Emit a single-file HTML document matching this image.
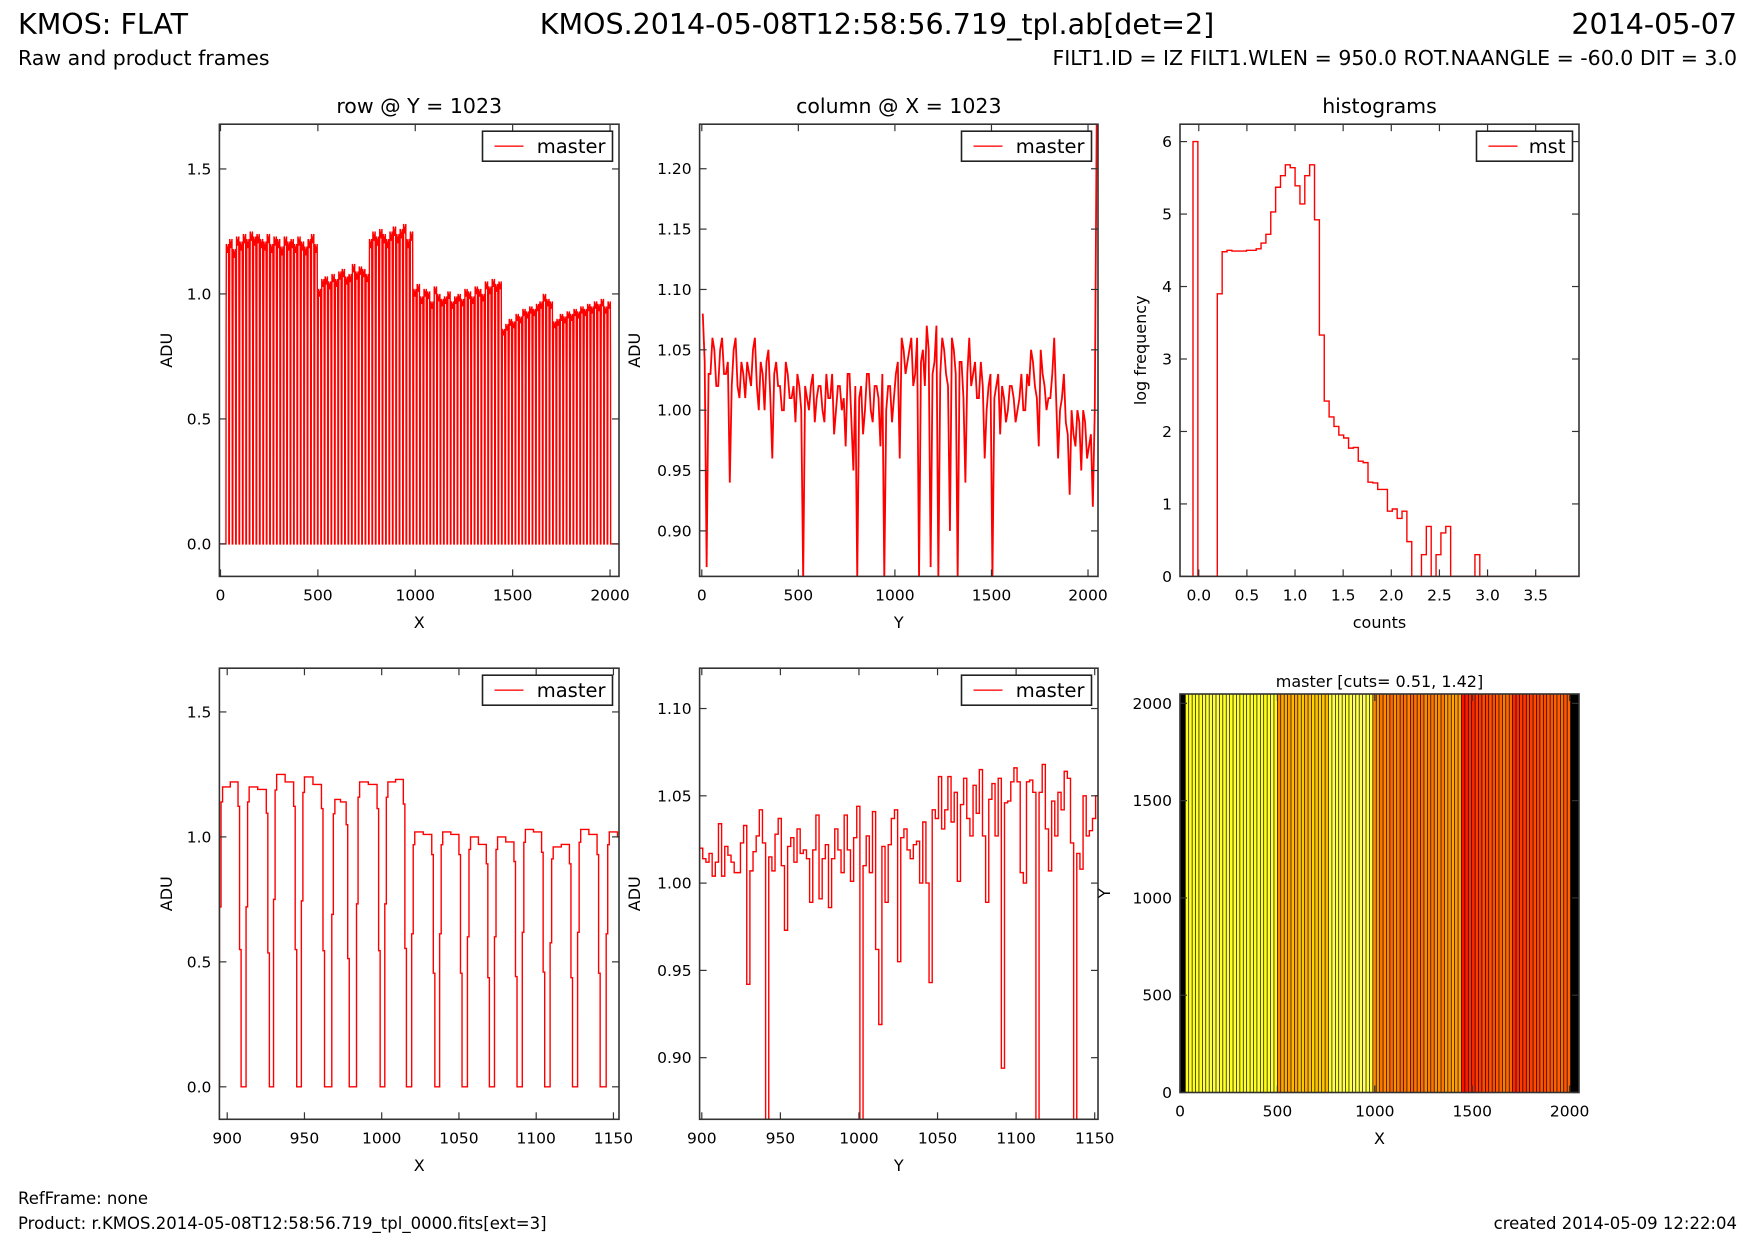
<!DOCTYPE html>
<html><head><meta charset="utf-8">
<style>
html,body{margin:0;padding:0;background:#fff;}
svg{display:block;font-family:"DejaVu Sans","Liberation Sans",sans-serif;}
</style></head>
<body>
<svg id="fig" width="1755" height="1245" viewBox="0 0 1755 1245" xmlns="http://www.w3.org/2000/svg">
<rect x="0" y="0" width="1755" height="1245" fill="#fff"/>
<text x="18" y="34" font-size="28.5" fill="#000">KMOS: FLAT</text>
<text x="877" y="34" font-size="28.5" fill="#000" text-anchor="middle">KMOS.2014-05-08T12:58:56.719_tpl.ab[det=2]</text>
<text x="1737" y="34" font-size="28.5" fill="#000" text-anchor="end">2014-05-07</text>
<text x="18" y="65" font-size="20.5" fill="#000">Raw and product frames</text>
<text x="1737" y="65" font-size="20.5" fill="#000" text-anchor="end">FILT1.ID = IZ FILT1.WLEN = 950.0 ROT.NAANGLE = -60.0 DIT = 3.0</text>
<text x="18" y="1204" font-size="16.5" fill="#000">RefFrame: none</text>
<text x="18" y="1229" font-size="16.5" fill="#000">Product: r.KMOS.2014-05-08T12:58:56.719_tpl_0000.fits[ext=3]</text>
<text x="1737" y="1229" font-size="16.5" fill="#000" text-anchor="end">created 2014-05-09 12:22:04</text>
</svg>
<script>
// ---------- data ----------
const slitStart = 28;
const slitPitch = 17.5;
const slitLevels = [1.20,1.22,1.18,1.23,1.21,1.24,1.22,1.25,1.23,1.24,1.22,1.21,1.24,1.20,1.23,1.22,1.19,1.23,1.21,1.22,1.20,1.23,1.21,1.19,1.22,1.24,1.20,
1.02,1.06,1.07,1.05,1.08,1.06,1.09,1.10,1.07,1.08,1.12,1.09,1.11,1.10,1.08,
1.22,1.25,1.23,1.26,1.24,1.22,1.25,1.27,1.24,1.26,1.28,1.22,1.25,
1.02,1.04,0.99,1.02,1.01,0.97,1.03,1.00,0.98,0.99,1.01,0.97,0.99,1.00,0.98,1.02,1.01,0.99,1.03,1.02,1.00,1.05,1.03,1.06,1.04,1.05,
0.86,0.88,0.90,0.89,0.92,0.91,0.94,0.93,0.95,0.94,0.96,0.97,1.00,0.98,
0.97,0.89,0.90,0.92,0.91,0.93,0.92,0.94,0.93,0.95,0.94,0.96,0.95,0.97,0.96,0.98,0.95,0.97];
// panel 2: column profile, samples every 20 px plus intermediate samples
const colStep = 20;
const colValues = [1.08,0.87,1.03,1.05,1.02,1.06,1.03,0.94,1.05,1.02,1.04,1.01,1.03,1.05,1.02,1.04,1.00,1.05,0.96,1.04,1.02,1.00,1.03,1.01,0.99,1.02,0.86,1.01,1.02,0.99,1.02,1.00,1.03,1.01,0.98,1.02,1.00,0.97,1.03,0.95,0.86,1.02,1.00,1.03,0.99,1.02,0.97,0.86,1.02,0.99,1.03,0.96,1.05,1.04,1.06,1.03,0.86,1.05,1.07,0.87,1.04,0.86,1.06,1.03,0.90,1.05,0.86,1.04,0.94,1.06,1.03,1.01,1.04,0.96,1.02,0.86,1.02,0.98,1.01,1.00,1.02,0.99,1.01,1.00,1.03,1.05,1.02,0.97,1.03,1.00,1.01,1.06,0.96,1.01,0.99,0.93,0.98,1.00,0.95,0.99,0.97,0.92,1.24];
const colMid = [1.04,1.03,1.06,1.02,1.05,1.03,1.04,1.02,1.06,1.01,1.03,1.04,1.02,1.06,1.00,1.03,1.04,1.01,1.03,1.02,1.00,1.04,1.01,1.02,1.03,1.00,1.02,1.00,1.03,1.01,1.02,0.99,1.01,1.03,1.00,1.02,1.01,1.03,0.99,1.02,1.01,0.98,1.03,1.00,1.02,1.01,1.03,1.00,1.02,1.01,1.04,1.06,1.03,1.05,1.02,1.06,1.04,1.02,1.05,1.03,1.07,1.03,1.05,1.02,1.06,1.03,1.04,1.01,1.03,1.02,1.04,1.01,1.02,1.00,1.03,1.01,1.03,1.02,0.99,1.02,1.01,1.00,1.03,1.00,1.02,1.04,1.01,1.05,1.02,1.01,1.03,1.01,1.00,1.03,0.98,1.00,0.97,0.99,1.00,0.96,0.98,1.00,1.24];
const histStart = -0.06;
const histWidth = 0.0505;
const histCounts = [6.0,0,0,0,0,3.9,4.48,4.5,4.49,4.49,4.49,4.5,4.5,4.52,4.6,4.72,5.03,5.37,5.53,5.68,5.64,5.39,5.14,5.53,5.68,4.92,3.33,2.42,2.2,2.07,1.95,1.91,1.77,1.78,1.59,1.57,1.3,1.29,1.2,1.2,0.9,0.93,0.8,0.9,0.48,0,0,0.3,0.69,0,0.3,0.6,0.69,0,0,0,0,0,0.3,0,0,0,0,0,0,0,0,0,0,0,0,0,0,0,0,0,0,0,0,0];
const zRowStart = [895,912.2,930,948,967.7,983.7,1002,1019.4,1037.5,1055.5,1073,1091,1109,1126.8,1145.3];
const zRowEnd   = [909,927.3,945,963,979,999,1016,1034.4,1052,1069.7,1087.6,1105.5,1123.5,1141.4,1160];
const zRowLevA  = [1.20,1.20,1.25,1.24,1.15,1.22,1.22,1.02,1.02,1.00,1.00,1.03,0.96,1.03,1.02];
const zRowLevB  = [1.22,1.19,1.22,1.21,1.14,1.21,1.23,1.01,1.01,0.97,0.98,1.02,0.97,1.01,1.00];
const zColStart = 898.6;
const zColStep = 2;
const zColValues = [1.02,1.014,1.012,1.017,1.004,1.012,1.034,1.004,1.021,1.016,1.012,1.006,1.006,1.023,1.033,0.942,1.007,1.018,1.027,1.042,1.023,0.86,1.015,1.007,1.028,1.037,1.01,0.973,1.021,1.026,1.012,1.031,1.017,1.019,1.014,0.989,1.019,1.039,0.991,1.014,1.022,0.986,1.014,1.031,1.019,1.006,1.039,1.019,1.001,1.026,1.044,0.86,1.01,1.027,1.006,1.041,0.962,0.919,1.021,0.989,1.022,1.037,1.042,0.955,1.026,1.031,1.019,1.014,1.022,1.024,1.0,1.035,1.0,0.943,1.042,1.037,1.061,1.031,1.042,1.061,1.035,1.052,1.001,1.045,1.06,1.037,1.027,1.056,1.04,1.065,1.027,0.989,1.048,1.057,1.027,1.06,0.894,1.046,1.047,1.058,1.066,1.058,1.006,1.0,1.058,1.059,1.052,0.86,1.052,1.068,1.031,1.007,1.047,1.027,1.052,1.042,1.064,1.06,1.023,0.86,1.017,1.008,1.05,1.027,1.03,1.037,1.05,1.05];
const ticksX2k = [0,500,1000,1500,2000];
const ticksYrow = [0.0,0.5,1.0,1.5];
const ticksYcol = [0.90,0.95,1.00,1.05,1.10,1.15,1.20];
const ticksXhist = [0.0,0.5,1.0,1.5,2.0,2.5,3.0,3.5];
const ticksYhist = [0,1,2,3,4,5,6];
const ticksXzoom = [900,950,1000,1050,1100,1150];
const imgCuts = [0.51,1.42];

// ---------- helpers ----------
const NS = "http://www.w3.org/2000/svg";
const svg = document.getElementById('fig');
function mk(tag, parent){ const e=document.createElementNS(NS,tag); parent.appendChild(e); return e; }
function lin(d0,d1,r0,r1){ return v => r0+(v-d0)*(r1-r0)/(d1-d0); }
let clipN=0;

function panel(o){
  const g = mk('g', svg);
  
  
  const sx = lin(o.xd[0],o.xd[1],o.L,o.R), sy = lin(o.yd[0],o.yd[1],o.B,o.T);
  const cp = mk('clipPath', g); cp.id = 'c'+(clipN++);
  const cr = mk('rect', cp);
  cr.setAttribute('x',o.L); cr.setAttribute('y',o.T); cr.setAttribute('width',o.R-o.L); cr.setAttribute('height',o.B-o.T);
  const plot = mk('g', g); plot.setAttribute('clip-path','url(#'+cp.id+')');
  
  
  return {g, plot, sx, sy, o};
}
function frame(P, xt, yt, xfmt, yfmt, xlab, ylab, xlabY, ylabX){
  const {g,sx,sy,o} = P;
  xt.forEach(v=>{
    const x=sx(v);
    const t1=mk('line',g); t1.setAttribute('x1',x);t1.setAttribute('x2',x);t1.setAttribute('y1',o.B);t1.setAttribute('y2',o.B-7);t1.setAttribute('stroke','#333');t1.setAttribute('stroke-width','1.2');
    
    
    const t2=mk('line',g); t2.setAttribute('x1',x);t2.setAttribute('x2',x);t2.setAttribute('y1',o.T);t2.setAttribute('y2',o.T+7);t2.setAttribute('stroke','#333');t2.setAttribute('stroke-width','1.2');
    
    
    const tx=mk('text',g); tx.setAttribute('x',x); tx.setAttribute('y',o.B+24); tx.setAttribute('font-size','15.5'); tx.setAttribute('text-anchor','middle');
    tx.textContent = xfmt(v);
    
    
  });
  yt.forEach(v=>{
    const y=sy(v);
    const t1=mk('line',g); t1.setAttribute('x1',o.L);t1.setAttribute('x2',o.L+7);t1.setAttribute('y1',y);t1.setAttribute('y2',y);t1.setAttribute('stroke','#333');t1.setAttribute('stroke-width','1.2');
    
    
    const t2=mk('line',g); t2.setAttribute('x1',o.R);t2.setAttribute('x2',o.R-7);t2.setAttribute('y1',y);t2.setAttribute('y2',y);t2.setAttribute('stroke','#333');t2.setAttribute('stroke-width','1.2');
    
    
    const tx=mk('text',g); tx.setAttribute('x',o.L-8); tx.setAttribute('y',y+5.5); tx.setAttribute('font-size','15.5'); tx.setAttribute('text-anchor','end');
    tx.textContent = yfmt(v);
    
    
  });
  const r=mk('rect',g); r.setAttribute('x',o.L);r.setAttribute('y',o.T);r.setAttribute('width',o.R-o.L);r.setAttribute('height',o.B-o.T);
  r.setAttribute('fill','none');r.setAttribute('stroke','#333');r.setAttribute('stroke-width','1.6');
  
  
  const xl=mk('text',g); xl.setAttribute('x',(o.L+o.R)/2); xl.setAttribute('y',xlabY); xl.setAttribute('font-size','16'); xl.setAttribute('text-anchor','middle'); xl.textContent=xlab;
  
  
  const yl=mk('text',g); const cy=(o.T+o.B)/2; yl.setAttribute('x',ylabX); yl.setAttribute('y',cy); yl.setAttribute('font-size','16'); yl.setAttribute('text-anchor','middle');
  yl.setAttribute('transform','rotate(-90 '+ylabX+' '+cy+')'); yl.textContent=ylab;
  
  
}
function title(P, txt, y, size){
  const t=mk('text',P.g); t.setAttribute('x',(P.o.L+P.o.R)/2); t.setAttribute('y',y); t.setAttribute('font-size',size); t.setAttribute('text-anchor','middle'); t.textContent=txt;
  
  
}
function legend(P, label, w){
  const {g,o}=P; const x=o.R-6.5-w, y=o.T+7;
  const lg=mk('g',g);
  
  
  const r=mk('rect',lg); r.setAttribute('x',x);r.setAttribute('y',y);r.setAttribute('width',w);r.setAttribute('height',30);r.setAttribute('fill','#fff');r.setAttribute('stroke','#222');r.setAttribute('stroke-width','1.6');
  
  
  const l=mk('line',lg); l.setAttribute('x1',x+12);l.setAttribute('x2',x+41);l.setAttribute('y1',y+15);l.setAttribute('y2',y+15);l.setAttribute('stroke','#f33');l.setAttribute('stroke-width','1.6');
  
  
  const t=mk('text',lg); t.setAttribute('x',x+w-7);t.setAttribute('y',y+22);t.setAttribute('font-size','19.5');t.setAttribute('text-anchor','end');t.textContent=label;
  
  
}
function polyline(P, pts, name, w){
  const p=mk('polyline',P.plot);
  p.setAttribute('points', pts.map(q=>P.sx(q[0]).toFixed(2)+','+P.sy(q[1]).toFixed(2)).join(' '));
  p.setAttribute('fill','none'); p.setAttribute('stroke','#ff0000'); p.setAttribute('stroke-width', w||'1.4'); p.setAttribute('stroke-linejoin','miter');
  
  
}
const f1=v=>v.toFixed(1), f2=v=>v.toFixed(2), f0=v=>String(v);

// ---------- panel 1 ----------
const P1 = panel({name:'row-profile-panel', L:219.4,R:619,T:124.2,B:576.4, xd:[-5.6,2046], yd:[-0.130,1.679]});
{
  const pts=[[-10,0],[slitStart,0]];
  slitLevels.forEach((lv,i)=>{
    const x0=slitStart+i*slitPitch;
    pts.push([x0,0],[x0+1,lv*0.75],[x0+2,lv],[x0+slitPitch*0.5,lv*0.97],[x0+slitPitch-4,lv],[x0+slitPitch-3,lv*0.7],[x0+slitPitch-2.5,0]);
  });
  pts.push([2060,0]);
  polyline(P1, pts, 'row-series-master');
}
frame(P1, ticksX2k, ticksYrow, f0, f1, 'X', 'ADU', 628, 172);
title(P1, 'row @ Y = 1023', 113, 20.5);
legend(P1, 'master', 130);

// ---------- panel 2 ----------
const P2 = panel({name:'column-profile-panel', L:699.6,R:1098,T:124.2,B:576.4, xd:[-11.4,2051.7], yd:[0.8623,1.2369]});
{
  const pts=[];
  colValues.forEach((v,i)=>{
    pts.push([i*colStep+5,v]);
    if (i<colMid.length-1) pts.push([i*colStep+15,colMid[i]]);
  });
  polyline(P2, pts, 'column-series-master', '1.8');
}
frame(P2, ticksX2k, ticksYcol, f0, f2, 'Y', 'ADU', 628, 640);
title(P2, 'column @ X = 1023', 113, 20.5);
legend(P2, 'master', 130);

// ---------- panel 3 ----------
const P3 = panel({name:'histogram-panel', L:1180,R:1579,T:124.2,B:576.4, xd:[-0.195,3.95], yd:[0,6.24]});
{
  const pts=[[histStart,0]];
  histCounts.forEach((c,i)=>{ const a=histStart+i*histWidth; pts.push([a,c],[a+histWidth,c]); });
  pts.push([histStart+histCounts.length*histWidth,0]);
  polyline(P3, pts, 'histogram-mst');
}
frame(P3, ticksXhist, ticksYhist, f1, f0, 'counts', 'log frequency', 628, 1146);
title(P3, 'histograms', 113, 20.5);
legend(P3, 'mst', 96);

// ---------- panel 4 ----------
const P4 = panel({name:'row-zoom-panel', L:219.4,R:619,T:668.2,B:1119.3, xd:[894.95,1153.6], yd:[-0.13,1.675]});
{
  const pts=[];
  zRowStart.forEach((s,i)=>{
    const e=zRowEnd[i], a=zRowLevA[i], b=zRowLevB[i], m=(s+e)/2;
    pts.push([s,0],[s,a*0.6],[s+1,a*0.6],[s+1,a*0.95],[s+2,a*0.95],[s+2,a],[m,a],[m,b],[e-2,b],[e-2,b*0.92],[e-1,b*0.92],[e-1,b*0.45],[e,b*0.45],[e,0]);
  });
  polyline(P4, pts, 'row-zoom-series-master');
}
frame(P4, ticksXzoom, ticksYrow, f0, f1, 'X', 'ADU', 1171, 172);
legend(P4, 'master', 130);

// ---------- panel 5 ----------
const P5 = panel({name:'column-zoom-panel', L:699.6,R:1098,T:668.2,B:1119.3, xd:[898.6,1152.1], yd:[0.8647,1.1231]});
{
  const pts=[];
  zColValues.forEach((v,i)=>{ const x=zColStart+i*zColStep; pts.push([x,v],[x+zColStep,v]); });
  polyline(P5, pts, 'column-zoom-series-master');
}
frame(P5, ticksXzoom, ticksYcol.slice(0,5), f0, f2, 'Y', 'ADU', 1171, 640);
legend(P5, 'master', 130);

// ---------- panel 6 ----------
const P6 = panel({name:'master-image-panel', L:1180,R:1579,T:694,B:1092.5, xd:[0,2048], yd:[0,2048]});
{
  const bg=mk('rect',P6.plot); bg.setAttribute('x',1180);bg.setAttribute('y',694);bg.setAttribute('width',399);bg.setAttribute('height',398.5);bg.setAttribute('fill','#000');
  
  
  function hot(v){
    const t=Math.max(0,Math.min(1,(v-imgCuts[0])/(imgCuts[1]-imgCuts[0])));
    const r=Math.min(1,t/0.365), g=Math.max(0,Math.min(1,(t-0.365)/0.365)), b=Math.max(0,Math.min(1,(t-0.73)/0.27));
    return 'rgb('+Math.round(r*255)+','+Math.round(g*255)+','+Math.round(b*255)+')';
  }
  slitLevels.forEach((lv,i)=>{
    const x0=slitStart+i*slitPitch+1, x1=x0+slitPitch-3.5;
    const r=mk('rect',P6.plot);
    r.setAttribute('x',P6.sx(x0)); r.setAttribute('width',P6.sx(x1)-P6.sx(x0));
    r.setAttribute('y',P6.sy(2048)); r.setAttribute('height',P6.sy(0)-P6.sy(2048));
    r.setAttribute('fill',hot(lv));
    
    
  });
}
frame(P6, ticksX2k, ticksX2k, f0, f0, 'X', 'Y', 1144, 1110);
title(P6, 'master [cuts= '+imgCuts[0].toFixed(2)+', '+imgCuts[1].toFixed(2)+']', 687, 16);
</script>
</body></html>
